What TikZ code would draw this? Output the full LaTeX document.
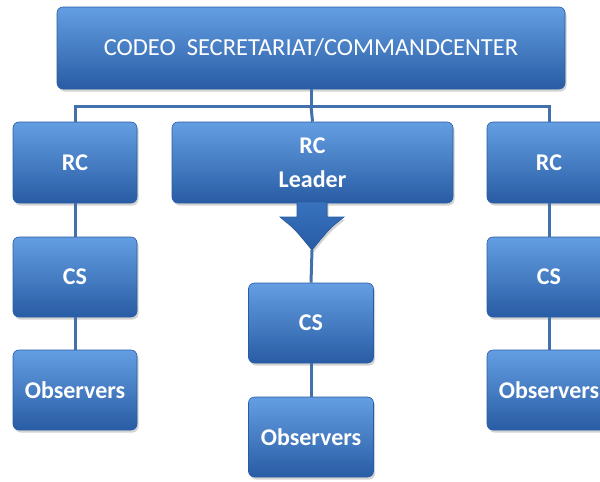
\documentclass[tikz,border=0pt]{standalone}
\usepackage{fontspec}
\setmainfont{Carlito}
\usetikzlibrary{shadows}

\definecolor{boxblue}{RGB}{56,114,190}
\definecolor{boxlight}{RGB}{100,158,226}
\definecolor{boxdark}{RGB}{40,92,164}
\definecolor{lineblue}{RGB}{66,112,172}

\tikzset{
  orgbox/.style={rectangle, rounded corners=6pt, draw=boxdark, line width=0.6pt,
    top color=boxlight, middle color=boxblue, bottom color=boxdark,
    drop shadow={opacity=0.35, shadow xshift=1.5pt, shadow yshift=-2.5pt},
    text=white, align=center, inner sep=0pt},
  unitbox/.style={orgbox, minimum width=124pt, minimum height=81pt,
    font=\fontsize{24}{29}\selectfont\bfseries},
  link/.style={lineblue, line width=3pt}
}

\begin{document}
\begin{tikzpicture}[x=1pt,y=-1pt]
  \useasboundingbox (0,0) rectangle (600,482);
  \clip (0,0) rectangle (600,482);

  \coordinate (bus) at (311,106);
  \coordinate (tip) at (312,250);

  \node[orgbox, minimum width=508pt, minimum height=82pt,
        font=\fontsize{24.5}{29}\selectfont] (cmd) at (311,48) {CODEO\ \ SECRETARIAT/COMMANDCENTER};

  \node[unitbox] (rcA) at (75,162.5) {RC};
  \node[unitbox, minimum width=281pt] (rcLead) at (312.5,162.5) {RC\\[5pt]Leader};
  \node[unitbox] (rcB) at (549,162.5) {RC};

  \node[unitbox, minimum height=80pt] (csA) at (75,277) {CS};
  \node[unitbox, minimum height=80pt] (obsA) at (75,390) {Observers};

  \node[unitbox, minimum width=125pt, minimum height=80pt] (csLead) at (311,323) {CS};
  \node[unitbox, minimum width=125pt, minimum height=80pt] (obsLead) at (311,437) {Observers};

  \node[unitbox, minimum height=80pt] (csB) at (549,277) {CS};
  \node[unitbox, minimum height=80pt] (obsB) at (549,390) {Observers};

  % connectors
  \draw[link] (cmd.south) -- (bus);
  \draw[link] (bus) -| (rcA.north);
  \draw[link] (bus) -| (rcB.north);
  \draw[link] (bus) -- (rcLead.north);
  \draw[link] (rcA) -- (csA);
  \draw[link] (csA) -- (obsA);
  \draw[link] (rcB) -- (csB);
  \draw[link] (csB) -- (obsB);
  \draw[link] (tip) -- (csLead.north);
  \draw[link] (csLead) -- (obsLead);

  % block arrow under the leader box
  \fill[draw=boxdark, line width=0.6pt, top color=boxblue, bottom color=boxdark,
        drop shadow={opacity=0.35, shadow xshift=1.5pt, shadow yshift=-2.5pt}]
    (297,202) -- (327,202) -- (327,217) -- (344,217)
    .. controls (330,228) .. (tip) .. controls (294,228) .. (280,217)
    -- (297,217) -- cycle;
\end{tikzpicture}
\end{document}
